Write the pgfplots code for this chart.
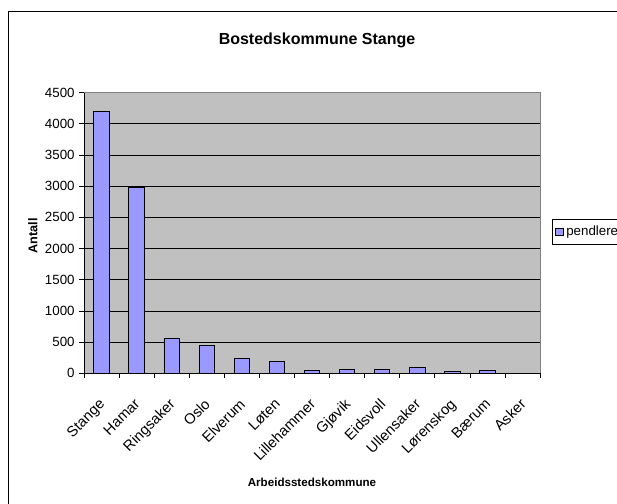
\documentclass[border=0pt]{standalone}
\usepackage{fontspec}
\setmainfont{Liberation Sans}
\usepackage{pgfplots}
\pgfplotsset{compat=1.18}
\definecolor{barblue}{HTML}{9999FF}
\definecolor{plotgray}{HTML}{C0C0C0}
\definecolor{edgegray}{HTML}{808080}
\begin{document}
\begin{tikzpicture}
\useasboundingbox (0,0) rectangle (462.75pt,377.25pt);
\draw[line width=0.9pt] (6.4pt,-20pt) -- (6.4pt,368.6pt) -- (480pt,368.6pt);
\node[font=\bfseries\fontsize{12}{14}\selectfont, anchor=base] at (237.75pt,343.5pt) {Bostedskommune Stange};
\begin{axis}[
  at={(63pt,97.3pt)}, anchor=south west,
  scale only axis, width=342pt, height=210.5pt,
  /pgf/number format/assume math mode=true,
  ybar, bar width=0.44,
  xmin=-0.5, xmax=12.5, ymin=0, ymax=4500,
  ytick={0,500,...,4500},
  axis lines*=left,
  axis line style={black, line width=0.6pt},
  axis background/.style={fill=plotgray},
  ymajorgrids, grid style={black, line width=0.5pt},
  tick align=outside, major tick length=3.5pt,
  tick style={black, line width=0.5pt},
  xtick={-0.5,0.5,...,12.5},
  xticklabels={Stange,Hamar,Ringsaker,Oslo,Elverum,Løten,Lillehammer,Gjøvik,Eidsvoll,Ullensaker,Lørenskog,Bærum,Asker,{}},
  xticklabel style={xshift=10.7pt, yshift=-10pt, rotate=45, anchor=north east, font=\fontsize{11}{13}\selectfont},
  yticklabel style={font=\fontsize{10}{12}\selectfont},
  scaled y ticks=false,
  yticklabel={\pgfmathprintnumber[fixed,1000 sep={}]{\tick}},
  xlabel={Arbeidsstedskommune}, ylabel={Antall},
  x label style={at={(axis description cs:0.5,-0.387)}, anchor=center, font=\bfseries\fontsize{8.7}{10}\selectfont},
  y label style={at={(axis description cs:-0.112,0.49)}, anchor=center, font=\bfseries\fontsize{9.5}{11}\selectfont},
  legend style={at={(1.026,0.55)}, anchor=north west, draw=black, fill=white,
    font=\fontsize{10}{12}\selectfont, inner xsep=2.5pt, inner ysep=3pt, row sep=0pt},
  legend cell align=left,
  legend image code/.code={\draw[#1, fill=barblue, draw=black, line width=0.5pt] (0pt,-2.8pt) rectangle (5.6pt,2.8pt);},
  after end axis/.code={\draw[edgegray, line width=0.7pt] (rel axis cs:0,1) -- (rel axis cs:1,1) -- (rel axis cs:1,0);},
]
\addplot[fill=barblue, draw=black, line width=0.6pt] coordinates {
  (0,4200) (1,2985) (2,555) (3,440) (4,240) (5,190) (6,45)
  (7,65) (8,65) (9,100) (10,25) (11,45) (12,0)
};
\addlegendentry{pendlere}
\end{axis}
\end{tikzpicture}
\end{document}
